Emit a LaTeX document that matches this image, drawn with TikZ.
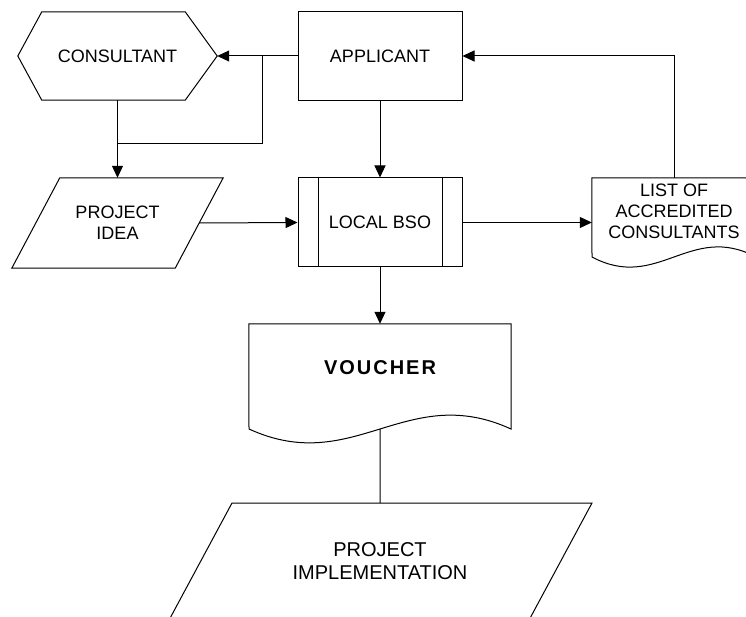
\documentclass[tikz,border=0pt]{standalone}
\usepackage{fontspec}
\setmainfont{Liberation Sans}
\newfontfamily\boldspaced[LetterSpace=10]{Liberation Sans}
\usetikzlibrary{arrows.meta}

\tikzset{
  flow/.style={line width=1pt, draw=black},
  arr/.style={flow, -{Triangle[length=12pt,width=11pt]}},
  txt/.style={font=\fontsize{18}{21}\selectfont, align=center, inner sep=0pt},
  bigtxt/.style={font=\fontsize{20}{23}\selectfont, align=center, inner sep=0pt},
  box/.style={flow, minimum width=164pt, minimum height=89pt},
}

\begin{document}
\begin{tikzpicture}[x=1pt,y=-1pt]
  \clip (0,0) rectangle (746,617);
  \fill[white] (0,0) rectangle (746,617);

  % process boxes
  \node[box, txt] (app) at (380,56) {APPLICANT};
  \node[box, txt] (bso) at (380,222.5) {LOCAL BSO};
  \draw[flow] ([xshift=21pt]bso.north west) -- ([xshift=21pt]bso.south west);
  \draw[flow] ([xshift=-20pt]bso.north east) -- ([xshift=-20pt]bso.south east);

  % hexagon
  \node[txt, minimum width=199pt, minimum height=88pt] (cons) at (117.5,56) {CONSULTANT};
  \draw[flow] (cons.west) -- ([xshift=24pt]cons.north west) -- ([xshift=-32pt]cons.north east)
    -- (cons.east) -- ([xshift=-32pt]cons.south east) -- ([xshift=24pt]cons.south west) -- cycle;

  % input parallelogram
  \node[txt, minimum width=163pt, minimum height=90pt] (idea) at (117.5,223) {PROJECT\\IDEA};
  \draw[flow] ([xshift=24pt]idea.north west) -- ([xshift=24pt]idea.north east)
    -- ([xshift=-24pt]idea.south east) -- ([xshift=-24pt]idea.south west) -- cycle;

  % document: list of consultants
  \node[minimum width=164pt, minimum height=89pt, inner sep=0pt] (list) at (674,222.5) {};
  \draw[flow] (list.north west) -- (list.north east) -- (756,257)
    .. controls (690.4,222) and (657.6,292) .. (592,257) -- cycle;
  \node[txt] (listtext) at (674,211) {LIST OF\\ACCREDITED\\CONSULTANTS};

  % document: voucher
  \node[minimum width=262pt, minimum height=119pt, inner sep=0pt] (vou) at (380,383.5) {};
  \draw[flow] (vou.north west) -- (vou.north east) -- (511,429)
    .. controls (406.2,381) and (353.8,477) .. coordinate[pos=0.5] (voubot) (249,429) -- cycle;
  \node[inner sep=0pt, font=\boldspaced\bfseries\fontsize{20}{24}\selectfont] (voutext) at (380,368) {VOUCHER};

  % bottom parallelogram
  \node[bigtxt, minimum width=296pt, minimum height=117pt] (impl) at (380,561.5) {PROJECT\\IMPLEMENTATION};
  \draw[flow] (232,503) -- (592,503) -- (528,622) -- (168,622) -- cycle;

  % connectors
  \coordinate (split) at (262,56);
  \coordinate (merge) at (117.5,144);
  \draw[arr] (app.west) -- (cons.east);
  \draw[flow] (split) |- (merge);
  \draw[arr] (cons.south) -- (idea.north);
  \draw[arr] (idea.east) -- (bso.west);
  \draw[arr] (app.south) -- (bso.north);
  \draw[arr] (bso.east) -- (list.west);
  \draw[arr] (list.north) |- (app.east);
  \draw[arr] (bso.south) -- (vou.north);
  \draw[flow] (voubot) -- (impl.north);
\end{tikzpicture}
\end{document}
